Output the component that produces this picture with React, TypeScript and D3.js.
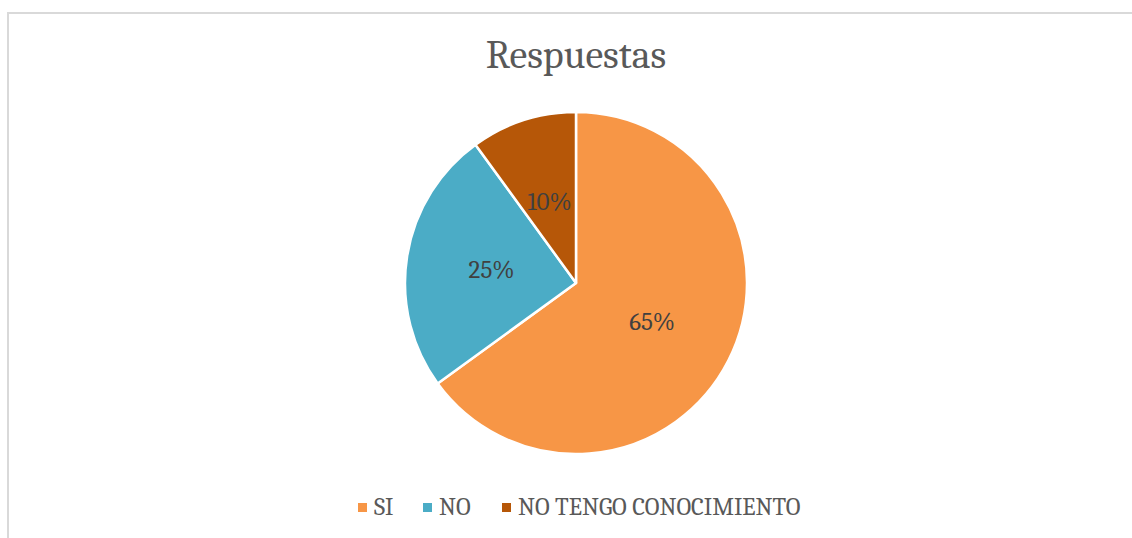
import React from 'react';
import * as d3 from 'd3';

const categories = ['SI', 'NO', 'NO TENGO CONOCIMIENTO'];
const values = [65, 25, 10];
const colors = ['#F79646', '#4BACC6', '#B65708'];

const W = 1132;
const H = 538;
const FONT = 'Cambria, Caladea, "DejaVu Serif", serif';

export default function App() {
  const cx = 576;
  const cy = 283;
  const radius = 171;

  const pie = d3.pie<number>().sort(null).value(d => d);
  const arcs = pie(values);
  const arc = d3.arc<d3.PieArcDatum<number>>().innerRadius(0).outerRadius(radius);

  // legend marker positions
  const legendX = [358, 423, 502];

  return (
    <svg width={W} height={H} style={{ position: 'absolute', left: 0, top: 0, display: 'block' }}>
      <rect x={8} y={13} width={W + 20} height={H + 20} fill="#fff" stroke="#d9d9d9" strokeWidth={2} />
      <text x={cx} y={68} textAnchor="middle" fontFamily={FONT} fontSize={40} fill="#595959">
        Respuestas
      </text>
      <g transform={`translate(${cx},${cy})`}>
        {arcs.map((a, i) => (
          <path key={categories[i]} d={arc(a) || ''} fill={colors[i]} stroke="#fff" strokeWidth={2.5} strokeLinejoin="round" />
        ))}
        {arcs.map((a, i) => {
          const [x, y] = arc.centroid(a);
          return (
            <text key={'l' + i} x={x} y={y} dy="0.33em" textAnchor="middle" fontFamily={FONT} fontSize={25} fill="#404040">
              {values[i]}%
            </text>
          );
        })}
      </g>
      {categories.map((c, i) => (
        <g key={c} transform={`translate(${legendX[i]},0)`}>
          <rect x={0} y={503} width={9} height={9} fill={colors[i]} />
          <text x={16} y={515} fontFamily={FONT} fontSize={24.5} fill="#595959">
            {c}
          </text>
        </g>
      ))}
    </svg>
  );
}
